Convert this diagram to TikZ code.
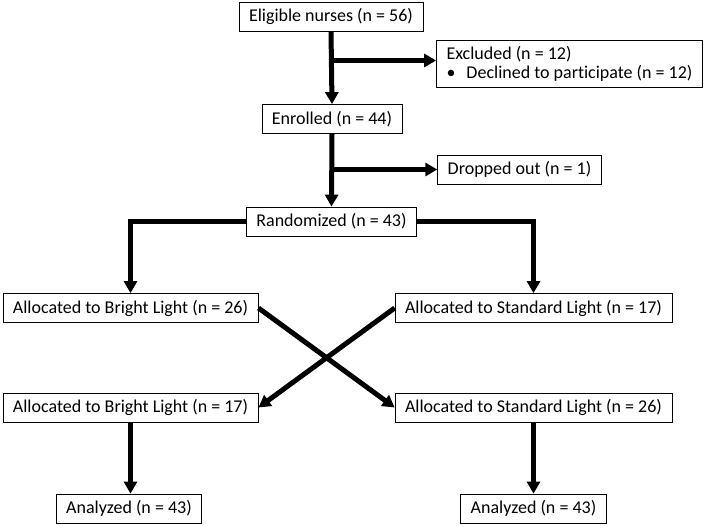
\documentclass[tikz,border=0pt]{standalone}
\usepackage{fontspec}
\setmainfont{Carlito}[Ligatures=NoCommon]
\usetikzlibrary{arrows.meta}

\tikzset{
  box/.style={draw, line width=0.8pt, fill=white, inner xsep=10pt, inner ysep=2pt,
    minimum height=29pt, font=\fontsize{18}{19}\selectfont},
  flow/.style={line width=5pt, -{Triangle[length=12pt,width=13pt]}}
}

\begin{document}
\begin{tikzpicture}[x=1pt,y=-1pt]
\useasboundingbox (0,0) rectangle (709,525);

% Enrolment
\node[box] (elig) at (331,16.5) {Eligible nurses (n = 56)};
\node[box, align=left, minimum height=47pt] (excl) at (569.5,63.5)
{Excluded (n = 12)\\\makebox[20pt][l]{\textbullet}Declined to participate (n = 12)};
\node[box] (enrol) at (332,119) {Enrolled (n = 44)};
\node[box] (drop) at (519.5,169.5) {Dropped out (n = 1)};
\node[box] (rand) at (331.5,221.5) {Randomized (n = 43)};

% First period
\node[box] (bright1) at (130.5,308) {Allocated to Bright Light (n = 26)};
\node[box] (std1) at (533.5,308) {Allocated to Standard Light (n = 17)};

% Second period
\node[box] (bright2) at (130.5,407.5) {Allocated to Bright Light (n = 17)};
\node[box] (std2) at (533.5,407.5) {Allocated to Standard Light (n = 26)};

% Analysis
\node[box] (anleft) at (129,508.5) {Analyzed (n = 43)};
\node[box] (anright) at (533.5,508.5) {Analyzed (n = 43)};

% Connectors
\draw[flow] (elig.south) -- (enrol.north);
\coordinate (exclstart) at ([yshift=3pt]elig.south |- excl.west);
\draw[flow] (exclstart) -- (exclstart -| excl.west);
\draw[flow] (enrol.south) -- (rand.north);
\draw[flow] (enrol.south |- drop.west) -- (drop.west);

\draw[flow] (rand.west) -| (bright1.north);
\draw[flow] (rand.east) -| (std1.north);

\draw[flow] (bright1.east) -- (std2.west);
\draw[flow] (std1.west) -- (bright2.east);

\draw[flow] (bright2.south) -- (bright2.south |- anleft.north);
\draw[flow] (std2.south) -- (std2.south |- anright.north);

\end{tikzpicture}
\end{document}
